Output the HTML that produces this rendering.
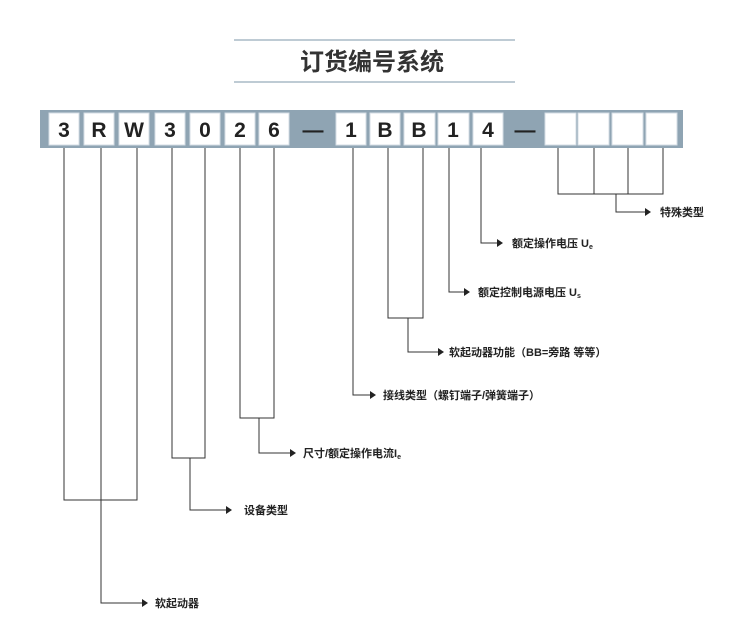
<!DOCTYPE html>
<html><head><meta charset="utf-8"><style>
body{margin:0;background:#fff;}
svg text{font-family:"Liberation Sans","Noto Sans CJK SC",sans-serif;}
</style></head><body>
<svg width="750" height="637" viewBox="0 0 750 637" xmlns="http://www.w3.org/2000/svg">
<line x1="234" y1="40" x2="515" y2="40" stroke="#a9bac6" stroke-width="1.5"/>
<line x1="234" y1="82" x2="515" y2="82" stroke="#a9bac6" stroke-width="1.5"/>
<text x="372" y="70" text-anchor="middle" font-size="24" font-weight="bold" fill="#333">订货编号系统</text>
<rect x="40" y="110" width="643" height="38" fill="#8fa4b3"/>
<g fill="#fff" stroke="#d5dee5" stroke-width="1">
<rect x="49" y="113" width="30" height="32"/><rect x="84" y="113" width="30" height="32"/>
<rect x="119" y="113" width="30" height="32"/><rect x="155" y="113" width="30" height="32"/>
<rect x="190" y="113" width="30" height="32"/><rect x="225" y="113" width="30" height="32"/>
<rect x="259" y="113" width="30" height="32"/>
<rect x="336" y="113" width="30" height="32"/><rect x="370" y="113" width="30" height="32"/>
<rect x="404" y="113" width="31" height="32"/><rect x="438" y="113" width="31" height="32"/>
<rect x="473" y="113" width="30" height="32"/>
<rect x="545" y="113" width="31" height="32"/><rect x="578" y="113" width="31" height="32"/>
<rect x="612" y="113" width="31" height="32"/><rect x="646" y="113" width="31" height="32"/>
</g>
<g font-size="21" font-weight="bold" fill="#222" text-anchor="middle">
<text x="64" y="137">3</text><text x="99" y="137">R</text><text x="134" y="137">W</text>
<text x="170" y="137">3</text><text x="205" y="137">0</text><text x="240" y="137">2</text>
<text x="274" y="137">6</text><text x="313" y="137">—</text>
<text x="351" y="137">1</text><text x="385" y="137">B</text><text x="419" y="137">B</text>
<text x="453" y="137">1</text><text x="488" y="137">4</text><text x="525" y="137">—</text>
</g>
<g stroke="#333" stroke-width="1" fill="none">
<polyline points="64,148 64,500 137,500 137,148"/>
<polyline points="101,148 101,603 144,603"/>
<polyline points="172,148 172,458 205,458 205,148"/>
<polyline points="190,458 190,510 228,510"/>
<polyline points="240,148 240,418 274,418 274,148"/>
<polyline points="259,418 259,453 292,453"/>
<polyline points="353,148 353,395 372,395"/>
<polyline points="388,148 388,318 423,318 423,148"/>
<polyline points="408,318 408,352 440,352"/>
<polyline points="449,148 449,292 466,292"/>
<polyline points="481,148 481,243 499,243"/>
<polyline points="558,148 558,194 663,194 663,148"/>
<line x1="594" y1="148" x2="594" y2="194"/><line x1="628" y1="148" x2="628" y2="194"/>
<polyline points="616,194 616,212 647,212"/>
</g>
<g fill="#222">
<polygon points="142,599 148,603 142,607"/>
<polygon points="226,506 232,510 226,514"/>
<polygon points="290,449 296,453 290,457"/>
<polygon points="370,391 376,395 370,399"/>
<polygon points="438,348 444,352 438,356"/>
<polygon points="464,288 470,292 464,296"/>
<polygon points="497,239 503,243 497,247"/>
<polygon points="645,208 651,212 645,216"/>
</g>
<g font-size="11" font-weight="bold" fill="#222">
<text x="155" y="607">软起动器</text>
<text x="244" y="514">设备类型</text>
<text x="303" y="457">尺寸/额定操作电流I<tspan font-size="7" dy="2">e</tspan></text>
<text x="383" y="399">接线类型（螺钉端子/弹簧端子）</text>
<text x="449" y="356">软起动器功能（BB=旁路 等等）</text>
<text x="478" y="296">额定控制电源电压 U<tspan font-size="7" dy="2">s</tspan></text>
<text x="512" y="247">额定操作电压 U<tspan font-size="7" dy="2">e</tspan></text>
<text x="660" y="216">特殊类型</text>
</g>
</svg>
</body></html>
